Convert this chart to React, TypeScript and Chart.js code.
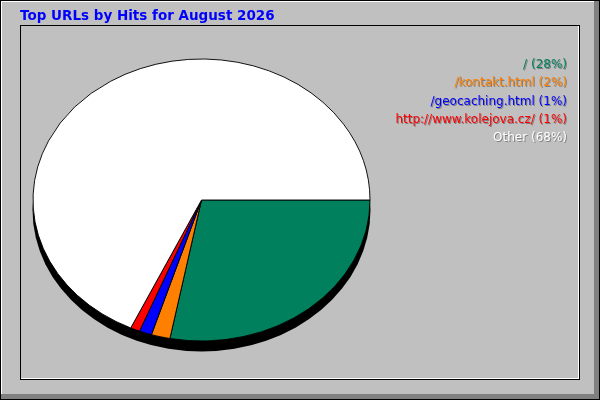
import React, { useEffect, useRef } from "react";
import Chart from "chart.js/auto";

const chartTitle = "Top URLs by Hits for August 2026";
const urls = ["/", "/kontakt.html", "/geocaching.html", "http://www.kolejova.cz/", "Other"];
const hitShares = [28.0, 1.8, 1.2, 0.9, 68.1];
const sliceColors = ["#00805c", "#ff8000", "#0000ff", "#ff0000", "#ffffff"];

const PIE_DEPTH = 10;
const Y_SQUASH = 141 / 168.5;

const framePlugin = {
  id: "webalizerFrame",
  beforeDraw(chart: any) {
    const ctx: CanvasRenderingContext2D = chart.ctx;
    const w = chart.width;
    const h = chart.height;
    ctx.save();
    ctx.fillStyle = "#c0c0c0";
    ctx.fillRect(0, 0, w, h);

    // outer raised border
    ctx.fillStyle = "#000000";
    ctx.fillRect(0, 0, w, 1);
    ctx.fillRect(0, 0, 1, h);
    ctx.fillRect(w - 1, 0, 1, h);
    ctx.fillRect(0, h - 1, w, 1);
    ctx.fillStyle = "#ffffff";
    ctx.fillRect(1, 1, w - 2, 1);
    ctx.fillRect(1, 1, 1, h - 2);
    ctx.fillStyle = "#808080";
    ctx.fillRect(w - 6, 1, 5, h - 2);
    ctx.fillRect(1, h - 6, w - 2, 5);

    // inner sunken box
    ctx.fillStyle = "#000000";
    ctx.fillRect(20, 25, 560, 1);
    ctx.fillRect(20, 25, 1, 355);
    ctx.fillRect(579, 25, 1, 355);
    ctx.fillRect(20, 379, 560, 1);
    ctx.fillStyle = "#ffffff";
    ctx.fillRect(21, 378, 558, 1);
    ctx.fillRect(578, 26, 1, 353);

    // title
    ctx.font = "bold 13.5px 'DejaVu Sans'";
    ctx.fillStyle = "#0000ff";
    ctx.textAlign = "left";
    ctx.textBaseline = "alphabetic";
    ctx.fillText(chartTitle, 20, 20);

    // legend, right aligned, with a grey drop shadow
    ctx.font = "12px 'DejaVu Sans'";
    ctx.textAlign = "right";
    urls.forEach((url, i) => {
      const label = `${url} (${Math.round(hitShares[i])}%)`;
      const y = 68 + i * 18.25;
      ctx.fillStyle = "#808080";
      ctx.fillText(label, 568, y + 1);
      ctx.fillStyle = sliceColors[i];
      ctx.fillText(label, 567, y);
    });

    // 3d edge under the pie
    const arc = chart.getDatasetMeta(0).data[0] as any;
    if (arc) {
      ctx.fillStyle = "#000000";
      ctx.beginPath();
      ctx.ellipse(arc.x, arc.y + PIE_DEPTH, arc.outerRadius + 0.5, arc.outerRadius * Y_SQUASH + 0.5, 0, 0, Math.PI * 2);
      ctx.fill();
    }
    ctx.restore();
  },
  beforeDatasetsDraw(chart: any) {
    const arc = chart.getDatasetMeta(0).data[0] as any;
    const ctx: CanvasRenderingContext2D = chart.ctx;
    ctx.save();
    ctx.translate(0, arc.y);
    ctx.scale(1, Y_SQUASH);
    ctx.translate(0, -arc.y);
  },
  afterDatasetsDraw(chart: any) {
    chart.ctx.restore();
  },
};

const App: React.FC = () => {
  const chartRef = useRef<HTMLCanvasElement | null>(null);
  const chartInstance = useRef<Chart | null>(null);

  useEffect(() => {
    document.body.style.margin = "0";
    if (chartRef.current) {
      if (chartInstance.current) {
        chartInstance.current.destroy();
      }
      const ctx = chartRef.current.getContext("2d");
      if (ctx) {
        chartInstance.current = new Chart(ctx, {
          type: "pie",
          data: {
            labels: urls,
            datasets: [
              {
                data: hitShares,
                backgroundColor: sliceColors,
                borderColor: "#000000",
                borderWidth: 1,
                borderJoinStyle: "miter",
              },
            ],
          },
          options: {
            animation: false,
            responsive: false,
            devicePixelRatio: 1,
            events: [],
            rotation: 90,
            layout: {
              padding: { left: 32.5, right: 229.5, top: 31, bottom: 31 },
            },
            plugins: {
              legend: { display: false },
              tooltip: { enabled: false },
              title: { display: false },
            },
          },
          plugins: [framePlugin],
        });
      }
    }

    return () => {
      if (chartInstance.current) {
        chartInstance.current.destroy();
        chartInstance.current = null;
      }
    };
  }, []);

  return <canvas ref={chartRef} width={600} height={400} style={{ display: "block" }} />;
};

export default App;
